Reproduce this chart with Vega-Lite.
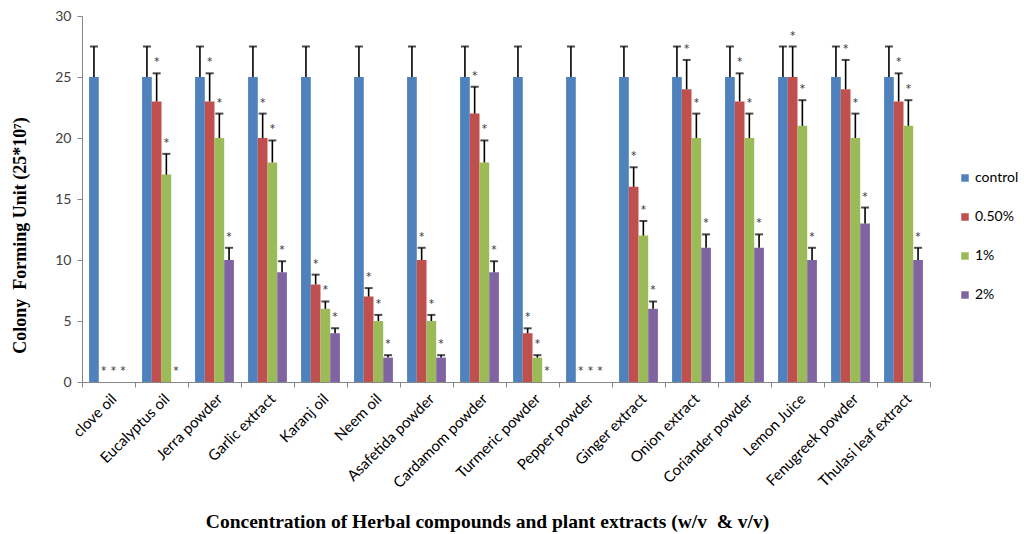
{
  "$schema": "https://vega.github.io/schema/vega-lite/v6.json",
  "autosize": {"type": "none"},
  "padding": {"left": 82, "top": 16, "right": 94, "bottom": 152},
  "width": 848,
  "height": 366,
  "background": "#ffffff",
  "config": {
    "view": {"stroke": null},
    "font": "Lato"
  },
  "data": {
    "values": [
      {"extract": "clove oil", "conc": "control", "cfu": 25, "upper": 27.5, "star": ""},
      {"extract": "clove oil", "conc": "0.50%", "cfu": 0, "upper": 0, "star": "*"},
      {"extract": "clove oil", "conc": "1%", "cfu": 0, "upper": 0, "star": "*"},
      {"extract": "clove oil", "conc": "2%", "cfu": 0, "upper": 0, "star": "*"},
      {"extract": "Eucalyptus oil", "conc": "control", "cfu": 25, "upper": 27.5, "star": ""},
      {"extract": "Eucalyptus oil", "conc": "0.50%", "cfu": 23, "upper": 25.3, "star": "*"},
      {"extract": "Eucalyptus oil", "conc": "1%", "cfu": 17, "upper": 18.7, "star": "*"},
      {"extract": "Eucalyptus oil", "conc": "2%", "cfu": 0, "upper": 0, "star": "*"},
      {"extract": "Jerra powder", "conc": "control", "cfu": 25, "upper": 27.5, "star": ""},
      {"extract": "Jerra powder", "conc": "0.50%", "cfu": 23, "upper": 25.3, "star": "*"},
      {"extract": "Jerra powder", "conc": "1%", "cfu": 20, "upper": 22, "star": "*"},
      {"extract": "Jerra powder", "conc": "2%", "cfu": 10, "upper": 11, "star": "*"},
      {"extract": "Garlic extract", "conc": "control", "cfu": 25, "upper": 27.5, "star": ""},
      {"extract": "Garlic extract", "conc": "0.50%", "cfu": 20, "upper": 22, "star": "*"},
      {"extract": "Garlic extract", "conc": "1%", "cfu": 18, "upper": 19.8, "star": "*"},
      {"extract": "Garlic extract", "conc": "2%", "cfu": 9, "upper": 9.9, "star": "*"},
      {"extract": "Karanj oil", "conc": "control", "cfu": 25, "upper": 27.5, "star": ""},
      {"extract": "Karanj oil", "conc": "0.50%", "cfu": 8, "upper": 8.8, "star": "*"},
      {"extract": "Karanj oil", "conc": "1%", "cfu": 6, "upper": 6.6, "star": "*"},
      {"extract": "Karanj oil", "conc": "2%", "cfu": 4, "upper": 4.4, "star": "*"},
      {"extract": "Neem oil", "conc": "control", "cfu": 25, "upper": 27.5, "star": ""},
      {"extract": "Neem oil", "conc": "0.50%", "cfu": 7, "upper": 7.7, "star": "*"},
      {"extract": "Neem oil", "conc": "1%", "cfu": 5, "upper": 5.5, "star": "*"},
      {"extract": "Neem oil", "conc": "2%", "cfu": 2, "upper": 2.2, "star": "*"},
      {"extract": "Asafetida powder", "conc": "control", "cfu": 25, "upper": 27.5, "star": ""},
      {"extract": "Asafetida powder", "conc": "0.50%", "cfu": 10, "upper": 11, "star": "*"},
      {"extract": "Asafetida powder", "conc": "1%", "cfu": 5, "upper": 5.5, "star": "*"},
      {"extract": "Asafetida powder", "conc": "2%", "cfu": 2, "upper": 2.2, "star": "*"},
      {"extract": "Cardamom powder", "conc": "control", "cfu": 25, "upper": 27.5, "star": ""},
      {"extract": "Cardamom powder", "conc": "0.50%", "cfu": 22, "upper": 24.2, "star": "*"},
      {"extract": "Cardamom powder", "conc": "1%", "cfu": 18, "upper": 19.8, "star": "*"},
      {"extract": "Cardamom powder", "conc": "2%", "cfu": 9, "upper": 9.9, "star": "*"},
      {"extract": "Turmeric powder", "conc": "control", "cfu": 25, "upper": 27.5, "star": ""},
      {"extract": "Turmeric powder", "conc": "0.50%", "cfu": 4, "upper": 4.4, "star": "*"},
      {"extract": "Turmeric powder", "conc": "1%", "cfu": 2, "upper": 2.2, "star": "*"},
      {"extract": "Turmeric powder", "conc": "2%", "cfu": 0, "upper": 0, "star": "*"},
      {"extract": "Pepper powder", "conc": "control", "cfu": 25, "upper": 27.5, "star": ""},
      {"extract": "Pepper powder", "conc": "0.50%", "cfu": 0, "upper": 0, "star": "*"},
      {"extract": "Pepper powder", "conc": "1%", "cfu": 0, "upper": 0, "star": "*"},
      {"extract": "Pepper powder", "conc": "2%", "cfu": 0, "upper": 0, "star": "*"},
      {"extract": "Ginger extract", "conc": "control", "cfu": 25, "upper": 27.5, "star": ""},
      {"extract": "Ginger extract", "conc": "0.50%", "cfu": 16, "upper": 17.6, "star": "*"},
      {"extract": "Ginger extract", "conc": "1%", "cfu": 12, "upper": 13.2, "star": "*"},
      {"extract": "Ginger extract", "conc": "2%", "cfu": 6, "upper": 6.6, "star": "*"},
      {"extract": "Onion extract", "conc": "control", "cfu": 25, "upper": 27.5, "star": ""},
      {"extract": "Onion extract", "conc": "0.50%", "cfu": 24, "upper": 26.4, "star": "*"},
      {"extract": "Onion extract", "conc": "1%", "cfu": 20, "upper": 22, "star": "*"},
      {"extract": "Onion extract", "conc": "2%", "cfu": 11, "upper": 12.1, "star": "*"},
      {"extract": "Coriander powder", "conc": "control", "cfu": 25, "upper": 27.5, "star": ""},
      {"extract": "Coriander powder", "conc": "0.50%", "cfu": 23, "upper": 25.3, "star": "*"},
      {"extract": "Coriander powder", "conc": "1%", "cfu": 20, "upper": 22, "star": "*"},
      {"extract": "Coriander powder", "conc": "2%", "cfu": 11, "upper": 12.1, "star": "*"},
      {"extract": "Lemon Juice", "conc": "control", "cfu": 25, "upper": 27.5, "star": ""},
      {"extract": "Lemon Juice", "conc": "0.50%", "cfu": 25, "upper": 27.5, "star": "*"},
      {"extract": "Lemon Juice", "conc": "1%", "cfu": 21, "upper": 23.1, "star": "*"},
      {"extract": "Lemon Juice", "conc": "2%", "cfu": 10, "upper": 11, "star": "*"},
      {"extract": "Fenugreek powder", "conc": "control", "cfu": 25, "upper": 27.5, "star": ""},
      {"extract": "Fenugreek powder", "conc": "0.50%", "cfu": 24, "upper": 26.4, "star": "*"},
      {"extract": "Fenugreek powder", "conc": "1%", "cfu": 20, "upper": 22, "star": "*"},
      {"extract": "Fenugreek powder", "conc": "2%", "cfu": 13, "upper": 14.3, "star": "*"},
      {"extract": "Thulasi leaf extract", "conc": "control", "cfu": 25, "upper": 27.5, "star": ""},
      {"extract": "Thulasi leaf extract", "conc": "0.50%", "cfu": 23, "upper": 25.3, "star": "*"},
      {"extract": "Thulasi leaf extract", "conc": "1%", "cfu": 21, "upper": 23.1, "star": "*"},
      {"extract": "Thulasi leaf extract", "conc": "2%", "cfu": 10, "upper": 11, "star": "*"}
    ]
  },
  "encoding": {
    "x": {
      "field": "extract",
      "type": "nominal",
      "sort": null,
      "scale": {"paddingInner": 0, "paddingOuter": 0},
      "axis": {
        "title": "Concentration of Herbal compounds and plant extracts (w/v\u00a0 & v/v)",
        "titleFont": "Liberation Serif",
        "titleFontWeight": "bold",
        "titleFontSize": 19.5,
        "titleColor": "#000000",
        "titleX": 405,
        "titleY": 145,
        "titleAnchor": null,
        "titleAlign": "center",
        "titleBaseline": "alphabetic",
        "labelAngle": -45,
        "labelFont": "Lato",
        "labelFontSize": 15,
        "labelColor": "#000000",
        "labelPadding": 4,
        "tickBand": "extent",
        "tickSize": 5,
        "tickColor": "#868686",
        "domainColor": "#868686",
        "labelOverlap": false
      }
    },
    "xOffset": {
      "field": "conc",
      "type": "nominal",
      "scale": {"domain": ["control", "0.50%", "1%", "2%"], "paddingInner": 0, "paddingOuter": 0.73}
    }
  },
  "layer": [
    {
      "mark": {"type": "bar"},
      "encoding": {
        "y": {
          "field": "cfu",
          "type": "quantitative",
          "scale": {"domain": [0, 30], "nice": false},
          "axis": {
            "values": [0, 5, 10, 15, 20, 25, 30],
            "grid": false,
            "title": "Colony\u00a0 Forming Unit (25*10⁷)",
            "titleFont": "Liberation Serif",
            "titleFontWeight": "bold",
            "titleFontSize": 18,
            "titleColor": "#000000",
            "titleAngle": -90,
            "titleX": -62,
            "titleY": 219,
            "titleAnchor": null,
            "titleAlign": "center",
            "titleBaseline": "middle",
            "labelFont": "Lato",
            "labelFontSize": 14,
            "labelColor": "#404040",
            "labelPadding": 6,
            "tickSize": 5,
            "tickColor": "#868686",
            "domainColor": "#868686"
          }
        },
        "color": {
          "field": "conc",
          "type": "nominal",
          "scale": {
            "domain": ["control", "0.50%", "1%", "2%"],
            "range": ["#4F81BD", "#C0504D", "#9BBB59", "#8064A2"]
          },
          "legend": {
            "title": null,
            "orient": "none",
            "legendX": 876,
            "legendY": 155,
            "symbolType": "square",
            "symbolSize": 56,
            "symbolStrokeWidth": 0,
            "labelFont": "Lato",
            "labelFontSize": 14,
            "labelColor": "#000000",
            "rowPadding": 25,
            "labelOffset": 3
          }
        }
      }
    },
    {
      "transform": [{"filter": "datum.cfu > 0"}],
      "mark": {"type": "rule", "color": "#000000", "strokeWidth": 1.6},
      "encoding": {
        "y": {"field": "cfu", "type": "quantitative"},
        "y2": {"field": "upper"}
      }
    },
    {
      "transform": [{"filter": "datum.cfu > 0"}],
      "mark": {"type": "tick", "color": "#000000", "orient": "horizontal", "size": 8, "thickness": 2},
      "encoding": {
        "y": {"field": "upper", "type": "quantitative"}
      }
    },
    {
      "transform": [{"filter": "datum.star != ''"}],
      "mark": {"type": "text", "font": "Lato", "fontSize": 15, "color": "#404040", "baseline": "alphabetic", "dy": -5},
      "encoding": {
        "y": {"field": "upper", "type": "quantitative"},
        "text": {"field": "star"}
      }
    }
  ]
}
